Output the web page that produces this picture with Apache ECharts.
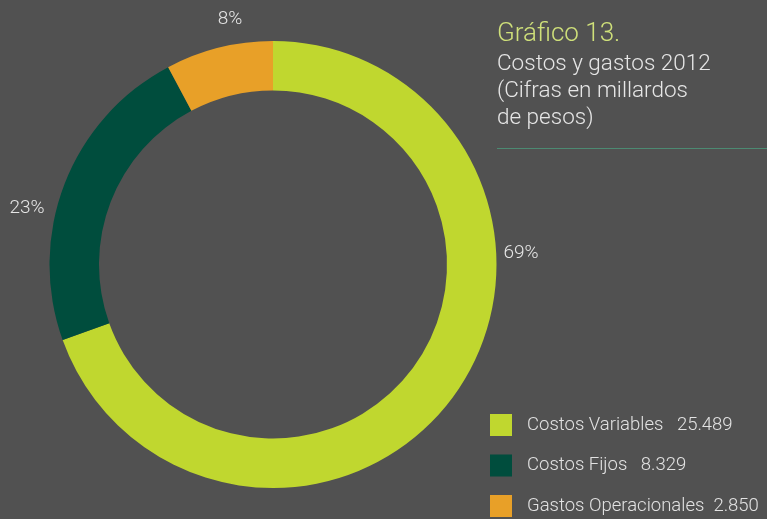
<!DOCTYPE html>
<html>
<head>
<meta charset="utf-8">
<script src="https://cdn.jsdelivr.net/npm/echarts@6/dist/echarts.min.js"></script>
<style>
html,body{margin:0;padding:0;background:#515151;}
#c{width:767px;height:519px;}
</style>
</head>
<body>
<div id="c"></div>
<script>
var categories = ['Costos Variables', 'Costos Fijos', 'Gastos Operacionales'];
var values = [25.489, 8.329, 2.850];
var valueLabels = ['25.489', '8.329', '2.850'];
var valueGaps = ['   ', '   ', '  '];
var percentLabels = ['69%', '23%', '8%'];
var colors = ['#c0d72f', '#004d3d', '#e8a028'];
var labelPos = [[521, 253], [27, 208], [230, 19]];

var chart = echarts.init(document.getElementById('c'));
chart.setOption({
  backgroundColor: '#515151',
  animation: false,
  title: {
    left: 492,
    top: 16,
    text: 'Gráfico 13.',
    subtext: 'Costos y gastos 2012\n(Cifras en millardos\nde pesos)',
    itemGap: 4,
    textStyle: {color: '#cfe07a', fontFamily: 'Roboto', fontWeight: 300, fontSize: 26},
    subtextStyle: {color: '#e6e6e6', fontFamily: 'Roboto', fontWeight: 300, fontSize: 22.5, lineHeight: 27}
  },
  graphic: [{
    type: 'line', shape: {x1: 497, y1: 148.5, x2: 767, y2: 148.5},
    style: {stroke: '#4c8a72', lineWidth: 1}
  }],
  legend: {
    orient: 'vertical',
    left: 490,
    top: 414,
    padding: 0,
    height: 110,
    itemWidth: 22,
    itemHeight: 22,
    itemGap: 18.5,
    icon: 'rect',
    selectedMode: false,
    data: categories,
    formatter: function (name) {
      var i = categories.indexOf(name);
      return name + valueGaps[i] + valueLabels[i];
    },
    textStyle: {color: '#e2e2e2', fontFamily: 'Roboto', fontWeight: 300, fontSize: 18.5, padding: [0, 0, 0, 10]}
  },
  series: [{
    type: 'pie',
    center: [273, 264.5],
    radius: [174, 223.5],
    startAngle: 90,
    clockwise: true,
    silent: true,
    avoidLabelOverlap: false,
    label: {
      show: true,
      position: 'outside',
      color: '#e6e6e6',
      fontFamily: 'Roboto',
      fontWeight: 300,
      fontSize: 19,
      formatter: function (p) { return percentLabels[p.dataIndex]; }
    },
    labelLine: {show: false},
    labelLayout: function (p) {
      var pos = labelPos[p.dataIndex];
      return {x: pos[0], y: pos[1], align: 'center', verticalAlign: 'middle'};
    },
    data: categories.map(function (c, i) {
      return {name: c, value: values[i], itemStyle: {color: colors[i]}};
    })
  }]
});
</script>
</body>
</html>
